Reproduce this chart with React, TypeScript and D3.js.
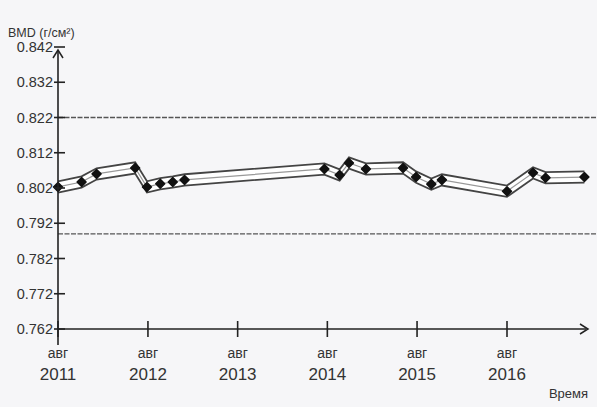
import React from "react";
import * as d3 from "d3";

const dates = [
  "2011-08-01", "2011-11-05", "2012-01-05", "2012-06-10", "2012-07-28",
  "2012-09-20", "2012-11-10", "2012-12-28", "2014-07-20", "2014-09-20",
  "2014-10-28", "2015-01-05", "2015-06-05", "2015-07-28", "2015-09-28",
  "2015-11-10", "2016-08-01", "2016-11-15", "2017-01-05", "2017-06-12",
];
const bmd = [
  0.8023, 0.8037, 0.806, 0.8077, 0.8023,
  0.8032, 0.8037, 0.8043, 0.8074, 0.8057,
  0.8091, 0.8074, 0.8077, 0.8051, 0.8031,
  0.8043, 0.8011, 0.8063, 0.8049, 0.8051,
];
const precision = 0.0016;
const yTicks = [0.762, 0.772, 0.782, 0.792, 0.802, 0.812, 0.822, 0.832, 0.842];
const xTickYears = [2011, 2012, 2013, 2014, 2015, 2016];
const refLines = [0.822, 0.789];
const yTitle = "BMD (г/см²)";
const xTitle = "Время";
const monthLabel = "авг";

const W = 597, H = 407;

export default function App() {
  const parse = d3.timeParse("%Y-%m-%d");
  const data = dates.map((d, i) => ({ date: parse(d) as Date, v: bmd[i] }));
  const x = d3.scaleTime()
    .domain([new Date(2011, 7, 1), new Date(2016, 7, 1)])
    .range([58, 507]);
  const y = d3.scaleLinear().domain([0.762, 0.842]).range([329, 47]);

  const line = d3.line<{ date: Date; v: number }>()
    .x((d) => x(d.date))
    .y((d) => y(d.v));
  const upper = d3.line<{ date: Date; v: number }>()
    .x((d) => x(d.date))
    .y((d) => y(d.v + precision));
  const lower = d3.line<{ date: Date; v: number }>()
    .x((d) => x(d.date))
    .y((d) => y(d.v - precision));
  const band = d3.area<{ date: Date; v: number }>()
    .x((d) => x(d.date))
    .y0((d) => y(d.v - precision))
    .y1((d) => y(d.v + precision));
  const marker = d3.symbol().type(d3.symbolSquare).size(40)();

  const x0 = x.range()[0];
  const y0 = y.range()[0];
  const font = "'Liberation Sans', Arial, sans-serif";

  return (
    <svg width={W} height={H} style={{ position: "absolute", left: 0, top: 0 }}
      fontFamily={font}>
      <rect x={0} y={0} width={W} height={H} fill="#f6f6f8" />
      {refLines.map((r, i) => (
        <line key={i} x1={x0} x2={W} y1={y(r)} y2={y(r)} stroke="#555"
          strokeWidth={1.3} strokeDasharray="5,1.5" />
      ))}
      <path d={band(data) || ""} fill="#ffffff" />
      <path d={upper(data) || ""} fill="none" stroke="#444" strokeWidth={1.8} />
      <path d={lower(data) || ""} fill="none" stroke="#444" strokeWidth={1.8} />
      <path d={line(data) || ""} fill="none" stroke="#999" strokeWidth={1.2} />
      {data.map((d, i) => (
        <path key={i} d={marker || ""}
          transform={`translate(${x(d.date)},${y(d.v)}) rotate(45)`}
          fill="#111" stroke="#111" strokeWidth={1.5} strokeLinejoin="round" />
      ))}
      {/* y axis */}
      <line x1={x0} x2={x0} y1={50} y2={345} stroke="#222" strokeWidth={1.6} />
      <path d={`M${x0 - 5},${58} L${x0},${50} L${x0 + 5},${58}`} fill="none"
        stroke="#222" strokeWidth={1.5} />
      {yTicks.map((t, i) => (
        <g key={i}>
          <line x1={x0 - 4} x2={x0 + 7} y1={y(t)} y2={y(t)} stroke="#222" strokeWidth={1.6} />
          <text x={x0 - 5} y={y(t)} dy="0.35em" textAnchor="end" fontSize={14.5}
            fill="#333">{t.toFixed(3)}</text>
        </g>
      ))}
      <text x={8} y={37} fontSize={12.5} fill="#333">{yTitle}</text>
      {/* x axis */}
      <line x1={x0} x2={586} y1={y0} y2={y0} stroke="#222" strokeWidth={1.6} />
      <path d={`M${580},${y0 - 5} L${588},${y0} L${580},${y0 + 5}`} fill="none"
        stroke="#222" strokeWidth={1.5} />
      {xTickYears.map((yr, i) => {
        const xx = x(new Date(yr, 7, 1));
        return (
          <g key={i}>
            <line x1={xx} x2={xx} y1={y0 - 8} y2={y0 + 8} stroke="#222" strokeWidth={1.6} />
            <text x={xx} y={358} textAnchor="middle" fontSize={14} fill="#333">{monthLabel}</text>
            <text x={xx} y={380} textAnchor="middle" fontSize={17} fill="#333">{yr}</text>
          </g>
        );
      })}
      <text x={588} y={398} textAnchor="end" fontSize={13} fill="#333">{xTitle}</text>
    </svg>
  );
}
